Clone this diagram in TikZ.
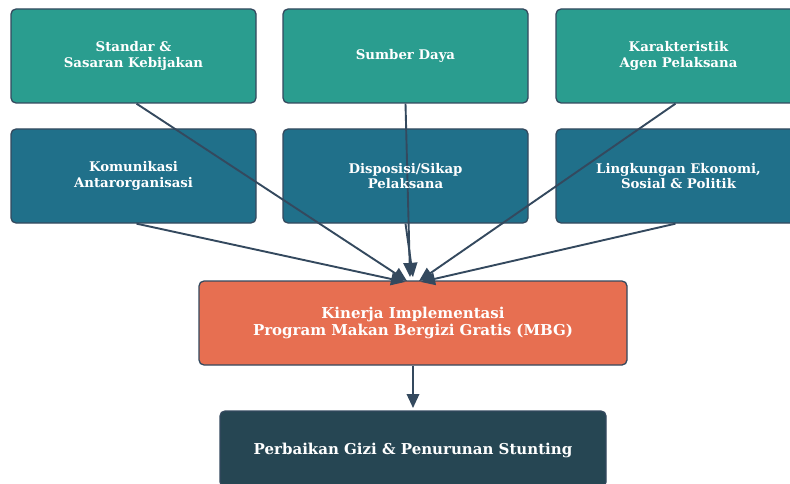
\documentclass[tikz,border=0pt]{standalone}
\usepackage{fontspec}
\setmainfont{DejaVu Serif}
\usetikzlibrary{arrows.meta}
\definecolor{teal1}{HTML}{2A9D8F}
\definecolor{blue1}{HTML}{20708A}
\definecolor{orange1}{HTML}{E76F51}
\definecolor{dark1}{HTML}{264653}
\definecolor{edge1}{HTML}{34495E}
\tikzset{
  boxbase/.style={draw=edge1, line width=1.3pt, rounded corners=5pt, inner sep=0pt},
  topbox/.style={boxbase, fill=teal1, minimum width=245pt, minimum height=94pt},
  midbox/.style={boxbase, fill=blue1, minimum width=245pt, minimum height=94pt},
  smalltext/.style={text=white, align=center, inner sep=0pt, font=\bfseries\fontsize{13.3}{15.5}\selectfont},
  bigtext/.style={text=white, align=center, inner sep=0pt, font=\bfseries\fontsize{15}{17.5}\selectfont},
  conn/.style={draw=edge1, line width=1.9pt, -{Triangle[length=14pt,width=12.5pt]}},
}
\begin{document}
\begin{tikzpicture}[x=1pt,y=-1pt]
\useasboundingbox (0,0) rectangle (790,484);
\clip (0,0) rectangle (790,484);
\fill[white] (0,0) rectangle (790,484);
\node[topbox] (a1) at (133.5,56) {};
\node[topbox] (a2) at (405.5,56) {};
\node[topbox] (a3) at (678.5,56) {};
\node[midbox] (b1) at (133.5,176) {};
\node[midbox] (b2) at (405.5,176) {};
\node[midbox] (b3) at (678.5,176) {};
\node[boxbase, fill=orange1, minimum width=428pt, minimum height=84pt] (k) at (413,323) {};
\node[boxbase, fill=dark1, minimum width=386pt, minimum height=76pt] (p) at (413,449) {};
\coordinate (t1) at (407,281);
\coordinate (t2) at (410,277);
\coordinate (t3) at (419,281);
\coordinate (t4) at (405,282);
\coordinate (t5) at (413,277);
\coordinate (t6) at (421,282);
\coordinate (pt) at (413,408);
\draw[conn] (a1.south) ++(3,0) -- (t1);
\draw[conn] (a2.south) -- (t2);
\draw[conn] (a3.south) ++(-3,0) -- (t3);
\draw[conn] (b1.south) ++(3,0) -- (t4);
\draw[conn] (b2.south) -- (t5);
\draw[conn] (b3.south) ++(-3,0) -- (t6);
\draw[conn] (k.south) -- (pt);
\node[smalltext] (la1) at (a1) {Standar \&\\Sasaran Kebijakan};
\node[smalltext] (la2) at (a2) {Sumber Daya};
\node[smalltext] (la3) at (a3) {Karakteristik\\Agen Pelaksana};
\node[smalltext] (lb1) at (b1) {Komunikasi\\Antarorganisasi};
\node[smalltext] (lb2) at (b2) {Disposisi/Sikap\\Pelaksana};
\node[smalltext] (lb3) at (b3) {Lingkungan Ekonomi,\\Sosial \& Politik};
\node[bigtext] (lk) at (k) {Kinerja Implementasi\\Program Makan Bergizi Gratis (MBG)};
\node[bigtext] (lp) at ([yshift=-1pt]p.center) {Perbaikan Gizi \& Penurunan Stunting};
\end{tikzpicture}
\end{document}
